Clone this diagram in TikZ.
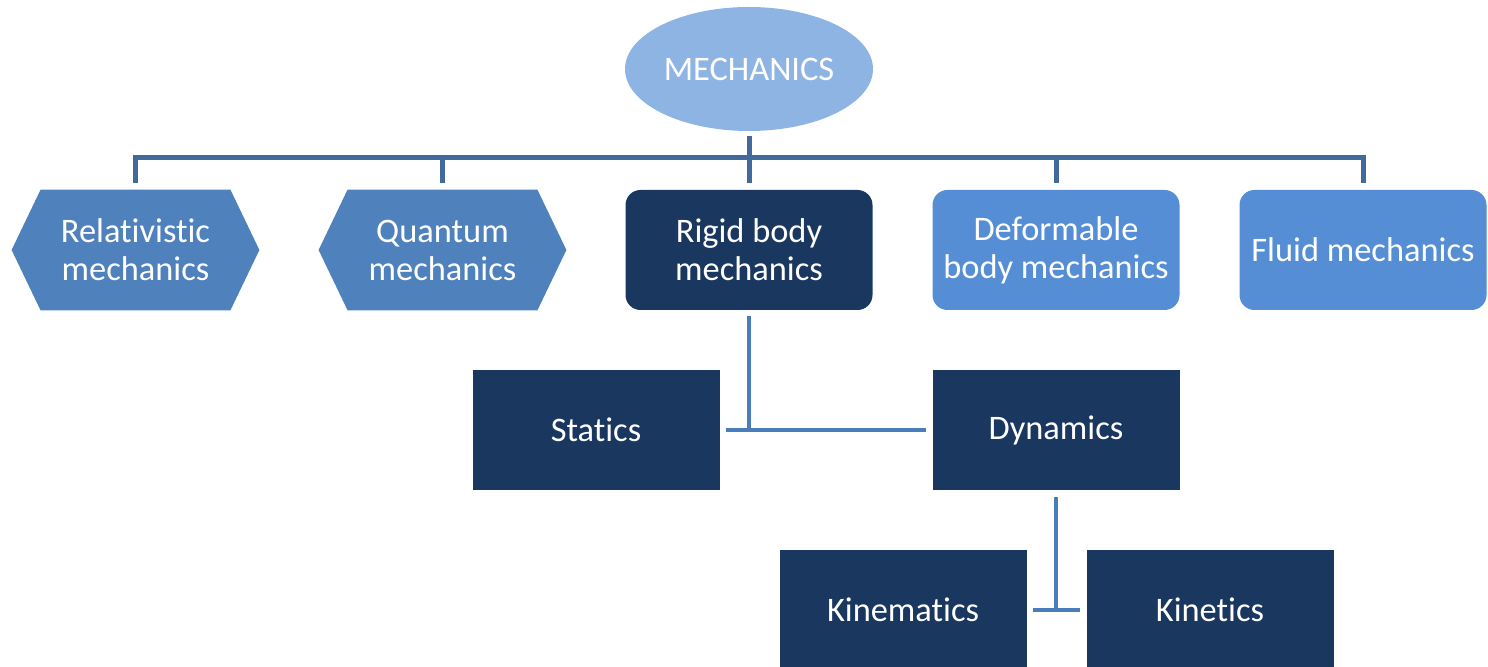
\documentclass[tikz,border=0pt]{standalone}
\usepackage{fontspec}
\setmainfont{Carlito}[Ligatures={NoCommon}]
\usetikzlibrary{calc,shapes.geometric,backgrounds}
\definecolor{hexc}{RGB}{79,129,189}
\definecolor{darkb}{RGB}{26,55,96}
\definecolor{lightb}{RGB}{85,142,213}
\definecolor{ellc}{RGB}{142,180,227}
\definecolor{busc}{RGB}{65,105,155}
\definecolor{linkc}{RGB}{74,126,187}
\begin{document}
\begin{tikzpicture}[x=0.5pt,y=-0.5pt,
 lbl/.style={text=white,font=\fontsize{17.2}{19}\selectfont,align=center},
 box/.style={lbl,minimum width=123.5pt,minimum height=60pt,inner sep=0pt},
 darkbox/.style={box,fill=darkb},
 rbox/.style={box,rounded corners=7.5pt},
 bus/.style={busc,line width=2.5pt},
 link/.style={linkc,line width=2pt},
 hexfill/.style={fill=hexc}]
\useasboundingbox (0,0) rectangle (1488,667);
\node[ellipse, fill=ellc, minimum width=124pt, minimum height=62pt, inner sep=0pt, lbl] (mech) at (749,69) {MECHANICS};
\node[box] (rel) at (135.5,250) {Relativistic\\mechanics};
\node[box] (qua) at (442.5,250) {Quantum\\mechanics};
\node[rbox,fill=darkb] (rig) at (749,250) {Rigid body\\mechanics};
\node[rbox,fill=lightb] (def) at (1056,250) {Deformable\\body mechanics};
\node[rbox,fill=lightb] (flu) at (1363,250) {Fluid mechanics};
\node[darkbox] (sta) at (596,430) {Statics};
\node[darkbox] (dyn) at (1056,430) {Dynamics};
\node[darkbox] (kin) at (903,610) {Kinematics};
\node[darkbox] (kit) at (1210,610) {Kinetics};
\begin{scope}[on background layer]
\foreach \h in {rel,qua}{
  \fill[hexfill] (\h.west) -- ([xshift=14.5pt]\h.north west) -- ([xshift=-14.5pt]\h.north east)
    -- (\h.east) -- ([xshift=-14.5pt]\h.south east) -- ([xshift=14.5pt]\h.south west) -- cycle;
}
\end{scope}
\coordinate (busy) at (749,158);
\draw[bus] ([yshift=3.5pt]rel.north) -- (rel.north |- busy) -- (flu.north |- busy) -- ([yshift=3.5pt]flu.north);
\draw[bus] ([yshift=3.5pt]qua.north) -- (qua.north |- busy);
\draw[bus] ([yshift=3.5pt]def.north) -- (def.north |- busy);
\draw[bus] ([yshift=-2.5pt]mech.south) -- ([yshift=3.5pt]rig.north);
\draw[link] ([yshift=-3pt]rig.south) -- (rig.south |- sta.east);
\draw[link] ([xshift=3pt]sta.east) -- ([xshift=-3pt]dyn.west);
\draw[link] ([yshift=-3.5pt]dyn.south) -- (dyn.south |- kin.east);
\draw[link] ([xshift=3pt]kin.east) -- ([xshift=-3pt]kit.west);
\end{tikzpicture}
\end{document}
